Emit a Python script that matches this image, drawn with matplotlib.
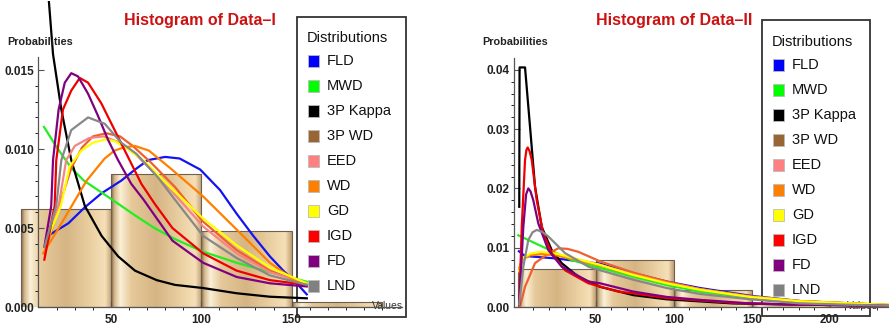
import matplotlib
matplotlib.use("Agg")
import matplotlib.pyplot as plt
import numpy as np
from matplotlib.colors import LinearSegmentedColormap
from matplotlib.patches import Rectangle

FONT = ['Liberation Sans', 'DejaVu Sans']

# ---- data: histogram bins (left edges) and heights ----
bin_edges = [0, 50, 100, 150]
bin_width = 50
hist_I = [0.0062, 0.0084, 0.0048, 0.00034]
hist_II = [0.0064, 0.0079, 0.0029, 0.0005]

names = ['FLD', 'MWD', '3P Kappa', '3P WD', 'EED', 'WD', 'GD', 'IGD', 'FD', 'LND']
legend_colors = ['#0000FF', '#00FF00', '#000000', '#996633', '#FF8080',
                 '#FF8000', '#FFFF00', '#FF0000', '#800080', '#808080']
line_colors = ['#1414F0', '#22EE22', '#000000', '#F0602E', '#F58585',
               '#FF8000', '#FFFF00', '#EE0000', '#800080', '#888888']

# ---- fitted densities, Data-I (value, probability) ----
FLD_I = [(15, 0.0045), (26.4, 0.0053), (35.4, 0.0063), (44.8, 0.0072), (55.7, 0.0080),
         (63.3, 0.0087), (70.5, 0.0093), (80, 0.0095), (88, 0.0094), (99.4, 0.0087),
         (110.4, 0.0074), (119.6, 0.0059), (128.8, 0.0045), (138, 0.0032),
         (145.4, 0.0023), (152.8, 0.0015), (158.4, 0.0008)]
MWD_I = [(12.9, 0.0114), (20, 0.0101), (28, 0.0088), (35, 0.0080), (42.8, 0.0074),
         (55.7, 0.0064), (63.3, 0.0058), (74, 0.0050), (85.4, 0.0043), (101, 0.0035),
         (119.6, 0.0028), (138, 0.0022), (158.4, 0.0016)]
KAPPA_I = [(15.3, 0.0198), (17.9, 0.0160), (22.5, 0.0125), (28, 0.0093), (35.5, 0.0064),
           (44.8, 0.0045), (54, 0.0032), (63.3, 0.0023), (75.3, 0.0017), (85.4, 0.0014),
           (101, 0.0012), (119.6, 0.00087), (138, 0.00065), (158.4, 0.00055)]
WD3_I = [(13.1, 0.0034), (23, 0.0070), (28, 0.0088), (34, 0.0101), (40, 0.0108),
         (47.4, 0.0110), (55, 0.0108), (62, 0.0102), (72.5, 0.0091), (85.4, 0.0076),
         (101, 0.0054), (119.6, 0.0036), (138, 0.0023), (158.4, 0.0014)]
EED_I = [(13.1, 0.0038), (21, 0.0064), (25.2, 0.0093), (30, 0.0102), (38, 0.0107),
         (46, 0.0108), (55, 0.0104), (63.3, 0.0097), (73, 0.0086), (84, 0.0073),
         (101, 0.0051), (119.6, 0.0034), (138, 0.0022), (158.4, 0.0015)]
WD_I = [(12.5, 0.0034), (20, 0.0048), (26.2, 0.0060), (36.5, 0.0080), (46.5, 0.0094),
        (52, 0.0099), (57, 0.0101), (63.1, 0.0102), (71, 0.0099), (82.7, 0.0088),
        (101, 0.0070), (119.6, 0.0049), (138, 0.0028), (152.8, 0.0016), (158.4, 0.0014)]
GD_I = [(13.1, 0.0038), (22.2, 0.0064), (27.1, 0.0089), (33.6, 0.0099), (40, 0.0104),
        (46.5, 0.0106), (52, 0.0105), (59.4, 0.0100), (68.8, 0.0092), (82.7, 0.0076),
        (101, 0.0056), (119.6, 0.0039), (138, 0.0025), (158.4, 0.0015)]
IGD_I = [(13.1, 0.0030), (18.8, 0.0064), (19.7, 0.0093), (23.4, 0.0125), (28, 0.0137),
         (32.7, 0.0145), (37.3, 0.0142), (44.6, 0.0129), (52, 0.0112), (59.4, 0.0095),
         (66.8, 0.0078), (74.4, 0.0065), (84, 0.0050), (101, 0.0034), (119.6, 0.0023),
         (138, 0.0017), (158.4, 0.0014)]
FD_I = [(13.1, 0.0038), (16.9, 0.0064), (17.9, 0.0093), (21, 0.0125), (24.4, 0.0142),
        (28, 0.0148), (31.7, 0.0146), (37.3, 0.0135), (42.8, 0.0121), (48.3, 0.0106),
        (53.9, 0.0093), (61.2, 0.0078), (68, 0.0068), (84, 0.0042), (101, 0.0028),
        (119.6, 0.0019), (138, 0.0015), (158.4, 0.0013)]
LND_I = [(13.1, 0.0038), (19.7, 0.0064), (22.5, 0.0093), (28, 0.0112), (37.3, 0.0120),
         (46.5, 0.0116), (55.7, 0.0104), (64, 0.0097), (76, 0.0082), (84, 0.0070),
         (101, 0.0045), (119.6, 0.0031), (138, 0.0020), (158.4, 0.0014)]

# ---- fitted densities, Data-II ----
FLD_II = [(0.8, 0.0094), (4.7, 0.0086), (24, 0.0082), (40, 0.0077), (52.8, 0.0073),
          (74.1, 0.0057), (95.5, 0.0043), (116.9, 0.0032), (149, 0.0019), (181, 0.0010),
          (238, 0.0003)]
MWD_II = [(0.4, 0.0121), (13.2, 0.0105), (34.6, 0.0079), (52.8, 0.0066), (74.1, 0.0051),
          (95.5, 0.0037), (116.9, 0.0026), (149, 0.0016), (181, 0.0009), (238, 0.0003)]
KAPPA_II = [(1.0, 0.0169), (1.2, 0.0404), (4.7, 0.0404), (7.9, 0.0304), (11.1, 0.0203),
            (15.4, 0.0135), (21.8, 0.0096), (28.2, 0.0074), (38.9, 0.0051), (52.8, 0.0034),
            (74.1, 0.0020), (95.5, 0.0013), (138, 0.0006), (181, 0.0004), (238, 0.0002)]
WD3_II = [(1.5, 0.0001), (4.7, 0.0034), (11.1, 0.0074), (19.6, 0.0090), (26, 0.0099),
          (32, 0.0098), (38.9, 0.0093), (52.8, 0.0077), (74.1, 0.0058), (95.5, 0.0043),
          (116.9, 0.0030), (149, 0.0017), (181, 0.0010), (238, 0.0003)]
EED_II = [(1, 0.0062), (3, 0.0081), (8, 0.0088), (15, 0.0091), (25, 0.0088), (35, 0.0082),
          (52.8, 0.0071), (74.1, 0.0055), (95.5, 0.0041), (116.9, 0.0030), (149, 0.0017),
          (181, 0.00095), (238, 0.00035)]
WD_II = [(1, 0.0066), (3, 0.0080), (8, 0.0087), (15, 0.0089), (25, 0.0087), (35, 0.0081),
         (52.8, 0.0070), (74.1, 0.0054), (95.5, 0.0041), (116.9, 0.0030), (149, 0.0018),
         (181, 0.0010), (238, 0.00035)]
GD_II = [(1, 0.0060), (3, 0.0082), (8, 0.0090), (15, 0.0093), (25, 0.0090), (35, 0.0083),
         (52.8, 0.0071), (74.1, 0.0054), (95.5, 0.0040), (116.9, 0.0029), (149, 0.0017),
         (181, 0.00096), (238, 0.00036)]
IGD_II = [(1, 0.0005), (2.6, 0.0135), (4.7, 0.0248), (5.6, 0.0265), (6.4, 0.0269),
          (7.6, 0.0263), (9, 0.0248), (12.2, 0.0180), (16.4, 0.0124), (21.8, 0.0091),
          (30.3, 0.0062), (45.3, 0.0040), (64.5, 0.0026), (74.1, 0.0023), (95.5, 0.0015),
          (138, 0.0007), (181, 0.0004), (238, 0.0002)]
FD_II = [(1, 0.0005), (3.6, 0.0135), (5.4, 0.0190), (6.8, 0.0200), (8.2, 0.0195),
         (10, 0.0180), (13.2, 0.0141), (19.6, 0.0096), (28.2, 0.0068), (45.3, 0.0043),
         (52.8, 0.0040), (74.1, 0.0026), (95.5, 0.0017), (116.9, 0.0012), (149, 0.0006),
         (181, 0.0004), (238, 0.0002)]
LND_II = [(1, 0.0005), (3.6, 0.0068), (6.8, 0.0113), (9.5, 0.0126), (12.2, 0.0130),
          (15.5, 0.0127), (19.6, 0.0119), (30.3, 0.0091), (45.3, 0.0068), (52.8, 0.0062),
          (74.1, 0.0046), (95.5, 0.0032), (116.9, 0.0022), (149, 0.0013), (181, 0.0006),
          (238, 0.0002)]

curves_I = [FLD_I, MWD_I, KAPPA_I, WD3_I, EED_I, WD_I, GD_I, IGD_I, FD_I, LND_I]
curves_II = [FLD_II, MWD_II, KAPPA_II, WD3_II, EED_II, WD_II, GD_II, IGD_II, FD_II, LND_II]

W, H = 889, 328
fig = plt.figure(figsize=(W / 100, H / 100), dpi=100)

bar_cmap = LinearSegmentedColormap.from_list('tan', [
    (0.0, '#8A7050'), (0.04, '#D8BC90'), (0.10, '#FBF0D8'), (0.22, '#E6C99A'),
    (0.50, '#D6B584'), (0.80, '#EDD3A6'), (0.93, '#F6DFB8'), (1.0, '#C0A070')])


def fx(px):
    return px / W


def fy(py):
    return 1 - py / H


def panel(rect, xlim, ylim, heights, curves, spine_x, ybound, xbound,
          yticks, ylabels, ymin_step, xticks, xminor, title, title_x,
          prob_x, legend_box, legend_x, legend_top, values_x):
    ax = fig.add_axes(rect)
    ax.patch.set_alpha(0)
    # histogram bars with a shaded fill
    bars = ax.bar(bin_edges, heights, width=bin_width, align='edge',
                  facecolor='none', edgecolor='#6E6050', linewidth=0.8, zorder=1.2)
    grad = np.linspace(0, 1, 200).reshape(1, -1)
    for b in bars:
        im = ax.imshow(grad, cmap=bar_cmap, aspect='auto', zorder=1.1,
                       extent=(b.get_x(), b.get_x() + b.get_width(), 0, b.get_height()))
        im.set_clip_path(b)
    for c, col in zip(curves, line_colors):
        xs, ys = zip(*c)
        ax.plot(xs, ys, color=col, lw=1.6, zorder=3, solid_joinstyle='round')
    ax.set_xlim(*xlim)
    ax.set_ylim(*ylim)

    for s in ['top', 'right']:
        ax.spines[s].set_visible(False)
    ax.spines['left'].set_position(('data', spine_x))
    ax.spines['left'].set_bounds(*ybound)
    ax.spines['bottom'].set_bounds(*xbound)
    for s in ['left', 'bottom']:
        ax.spines[s].set_color('#555555')
        ax.spines[s].set_linewidth(0.9)
        ax.spines[s].set_zorder(4)

    ax.set_yticks(yticks)
    ax.set_yticklabels(ylabels)
    ax.set_yticks(np.arange(0, yticks[-1] + 1e-9, ymin_step), minor=True)
    ax.set_xticks(xticks)
    ax.set_xticklabels([str(t) for t in xticks])
    ax.set_xticks(xminor, minor=True)
    ax.tick_params(direction='in', colors='#555555', labelcolor='#222222')
    ax.tick_params(which='major', length=4.5, width=0.8, pad=3)
    ax.tick_params(which='minor', length=2.5, width=0.6)
    ax.tick_params(axis='x', which='major', pad=5)
    for lab in ax.get_xticklabels() + ax.get_yticklabels():
        lab.set_fontfamily(FONT)
        lab.set_fontweight('bold')
        lab.set_fontsize(8.5)

    fig.text(fx(title_x), fy(20), title, color='#CC1111', fontsize=11.5,
             fontweight='bold', family=FONT, ha='center', va='center')
    fig.text(fx(prob_x), fy(42), 'Probabilities', color='#222222', fontsize=7.8,
             fontweight='bold', family=FONT, ha='left', va='center')
    ax.text(fx(values_x), fy(306), 'Values', color='#333333', fontsize=7.5,
            family=FONT, ha='right', va='center', transform=fig.transFigure, zorder=2)

    # legend drawn as an inset box under the bars and curves
    x0, y0, x1, y1 = legend_box
    ax.add_patch(Rectangle((fx(x0), fy(y1)), fx(x1 - x0), (y1 - y0) / H,
                           transform=fig.transFigure, facecolor='white',
                           edgecolor='#333333', lw=1.3, clip_on=False, zorder=0.5))
    ax.text(fx(legend_x - 1), fy(legend_top), 'Distributions', transform=fig.transFigure,
            fontsize=10.5, family=FONT, color='#111111', ha='left', va='center', zorder=0.6)
    for i, (nm, col) in enumerate(zip(names, legend_colors)):
        cy = legend_top + 23 + 25 * i
        ax.add_patch(Rectangle((fx(legend_x), fy(cy + 6)), fx(11), 12 / H,
                               transform=fig.transFigure, facecolor=col,
                               edgecolor='#BBBBBB', lw=0.6, clip_on=False, zorder=0.6))
        ax.text(fx(legend_x + 19), fy(cy), nm, transform=fig.transFigure, fontsize=10.5,
                family=FONT, color='#111111', ha='left', va='center', zorder=0.6)
    return ax


# Data-I panel
px_per_x1, x0px1 = 1.806, 20.7
py_per_y1 = 1 / 6.33e-5
xl1 = (-2, 213)
yl1 = (0, 0.0194)
rect1 = [fx(x0px1 + xl1[0] * px_per_x1), fy(307),
         (xl1[1] - xl1[0]) * px_per_x1 / W, yl1[1] * py_per_y1 / H]
panel(rect1, xl1, yl1, hist_I, curves_I, 9.6, (0, 0.0158), (9.6, 211),
      [0, 0.005, 0.010, 0.015], ['0.000', '0.005', '0.010', '0.015'], 0.001,
      [50, 100, 150], np.arange(20, 201, 10),
      'Histogram of Data\u2013I', 200, 7, (297, 17, 406, 317), 308, 38, 403)

# Data-II panel
px_per_x2, x0px2 = 1.56, 517.7
py_per_y2 = 5930
xl2 = (-3, 238)
yl2 = (0, 0.0425)
rect2 = [fx(x0px2 + xl2[0] * px_per_x2), fy(307),
         (xl2[1] - xl2[0]) * px_per_x2 / W, yl2[1] * py_per_y2 / H]
panel(rect2, xl2, yl2, hist_II, curves_II, -2.3, (0, 0.042), (-2.3, 238),
      [0, 0.01, 0.02, 0.03, 0.04], ['0.00', '0.01', '0.02', '0.03', '0.04'], 0.002,
      [50, 100, 150, 200], np.arange(10, 231, 10),
      'Histogram of Data\u2013II', 674, 482, (762, 20, 870, 316), 773, 41.7, 878)

fig.savefig('out.png', dpi=100)
